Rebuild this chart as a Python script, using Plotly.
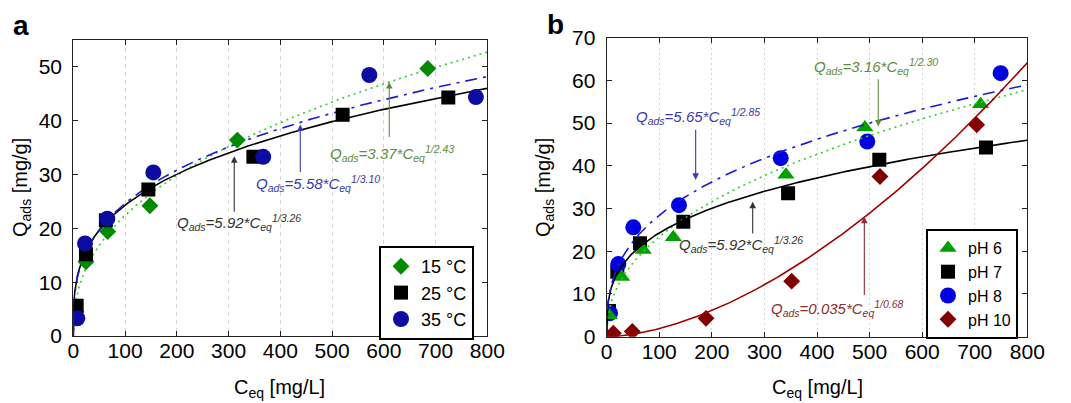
import numpy as np
import plotly.graph_objects as go

# ---------------- data ----------------
# panel a (temperature)
a_names = ["15 °C", "25 °C", "35 °C"]
a15_x = [5, 24.5, 66.5, 148, 317, 685]
a15_y = [4.5, 13.8, 19.4, 24.2, 36.4, 49.7]
a25_x = [6.5, 24.5, 63, 145, 348, 520.5, 724.6]
a25_y = [5.6, 15.2, 21.5, 27.2, 33.3, 41.1, 44.3]
a35_x = [7.7, 22.6, 65.7, 154.6, 367, 572, 778]
a35_y = [3.3, 17.2, 21.8, 30.4, 33.3, 48.5, 44.4]
a_fit_k = [3.37, 5.92, 5.58]
a_fit_n = [2.43, 3.26, 3.10]
a_eq_text = ["3.37", "5.92", "5.58"]
a_eq_exp = ["1/2.43", "1/3.26", "1/3.10"]

# panel b (pH)
b_names = ["pH 6", "pH 7", "pH 8", "pH 10"]
b6_x = [5, 28.5, 69.6, 126.7, 341, 491, 711]
b6_y = [5.0, 14.0, 20.3, 23.3, 37.9, 49.0, 54.4]
b7_x = [4.4, 20.2, 63.3, 145.7, 345, 518.5, 721.4]
b7_y = [6.0, 15.2, 21.9, 26.9, 33.6, 41.4, 44.3]
b8_x = [6.3, 22.1, 50.6, 137.5, 331, 495.6, 749.3]
b8_y = [5.5, 17.0, 25.6, 30.8, 41.8, 45.7, 61.7]
b10_x = [12.6, 48.7, 188.9, 351.8, 519.8, 703.7]
b10_y = [0.8, 1.2, 4.3, 13.0, 37.5, 49.6]
b_fit_k = [3.16, 5.92, 5.65, 0.00077]
b_fit_n = [2.30, 3.26, 2.85, 0.59]
b_eq_text = ["3.16", "5.92", "5.65", "0.035"]
b_eq_exp = ["1/2.30", "1/3.26", "1/2.85", "1/0.68"]

x_ticks = [0, 100, 200, 300, 400, 500, 600, 700, 800]

# ---------------- styles ----------------
FONT = "Liberation Sans, Arial, sans-serif"
a_mcol = ["#008a00", "#000000", "#0c0ca0"]
a_msym = ["diamond", "square", "circle"]
a_msize = [13, 14, 16]
a_lcol = ["#33cc33", "#000000", "#1a1ad0"]
a_ldash = ["2px,4px", "solid", "12px,6px,3px,6px"]
a_tcol = ["#5e8c3e", "#333333", "#3a3ab0"]

b_mcol = ["#00a000", "#000000", "#0000e0", "#800000"]
b_msym = ["triangle-up", "square", "circle", "diamond"]
b_msize = [15, 14, 16, 13]
b_lcol = ["#33cc33", "#000000", "#1a1ad0", "#a00000"]
b_ldash = ["2px,4px", "solid", "12px,6px,3px,6px", "solid"]
b_tcol = ["#5e8c3e", "#333333", "#3a3ab0", "#8b2e2e"]

fig = go.Figure()
xx = np.linspace(0, 800, 801)

# panel a: fits then markers
for k, n, c, d in zip(a_fit_k, a_fit_n, a_lcol, a_ldash):
    fig.add_trace(go.Scatter(x=xx, y=k * xx ** (1.0 / n), mode="lines",
                             line=dict(color=c, width=1.6, dash=d),
                             showlegend=False, hoverinfo="skip",
                             xaxis="x", yaxis="y"))
for name, xs, ys, c, s, sz in zip(a_names, [a15_x, a25_x, a35_x], [a15_y, a25_y, a35_y],
                                  a_mcol, a_msym, a_msize):
    fig.add_trace(go.Scatter(x=xs, y=ys, mode="markers", name=name,
                             marker=dict(color=c, symbol=s, size=sz, line=dict(width=0)),
                             legend="legend", xaxis="x", yaxis="y"))

# panel b: markers then fits
b_order = [1, 2, 0, 3]
b_xs = [b6_x, b7_x, b8_x, b10_x]
b_ys = [b6_y, b7_y, b8_y, b10_y]
for i in b_order:
    fig.add_trace(go.Scatter(x=b_xs[i], y=b_ys[i], mode="markers", name=b_names[i],
                             marker=dict(color=b_mcol[i], symbol=b_msym[i], size=b_msize[i],
                                         line=dict(width=0)),
                             legend="legend2", xaxis="x2", yaxis="y2",
                             legendrank=i + 1))
for k, n, c, d in zip(b_fit_k, b_fit_n, b_lcol, b_ldash):
    yy = k * xx ** (1.0 / n)
    fig.add_trace(go.Scatter(x=xx, y=yy, mode="lines",
                             line=dict(color=c, width=1.6, dash=d),
                             showlegend=False, hoverinfo="skip",
                             xaxis="x2", yaxis="y2"))

# ---------------- annotations ----------------
def eq(k, e):
    return ("<i>Q<sub>ads</sub>=" + k + "*C<sub>eq</sub><sup>" + e + "</sup></i>")

ann = []
# panel a equations: (text x, text y, tail x, tail y, head y)
a_pos = [(615, 34.0, 610.6, 36.7, 47.2),
         (320, 21.0, 311, 22.8, 33.4),
         (472, 28.4, 438.6, 30.2, 39.3)]
for i, (tx, ty, ax_, ay_, hy) in enumerate(a_pos):
    ann.append(dict(x=tx, y=ty, xref="x", yref="y", text=eq(a_eq_text[i], a_eq_exp[i]),
                    showarrow=False, xanchor="center", yanchor="middle",
                    font=dict(size=15, color=a_tcol[i], family=FONT)))
    ann.append(dict(x=ax_, y=hy, ax=ax_, ay=ay_, xref="x", yref="y", axref="x", ayref="y",
                    text="", showarrow=True, arrowhead=2, arrowsize=1.2, arrowwidth=1.1,
                    arrowcolor=a_tcol[i]))

b_pos = [(511.8, 63.2, 516.5, 60.6, 49.2),
         (255, 21.5, 277.7, 23.8, 31.6),
         (173.6, 51.5, 169.2, 48.8, 36.7),
         (438.7, 6.6, 490, 9.4, 28.1)]
for i, (tx, ty, ax_, ay_, hy) in enumerate(b_pos):
    ann.append(dict(x=tx, y=ty, xref="x2", yref="y2", text=eq(b_eq_text[i], b_eq_exp[i]),
                    showarrow=False, xanchor="center", yanchor="middle",
                    font=dict(size=15, color=b_tcol[i], family=FONT)))
    ann.append(dict(x=ax_, y=hy, ax=ax_, ay=ay_, xref="x2", yref="y2", axref="x2", ayref="y2",
                    text="", showarrow=True, arrowhead=2, arrowsize=1.2, arrowwidth=1.1,
                    arrowcolor=b_tcol[i]))

W, H = 1071, 403
def px(xp, yp):
    return xp / W, 1 - yp / H

# panel letters
for lab, (xp, yp) in [("a", (21, 25)), ("b", (555, 24))]:
    x0, y0 = px(xp, yp)
    ann.append(dict(x=x0, y=y0, xref="paper", yref="paper", text="<b>" + lab + "</b>",
                    xanchor="center", yanchor="middle", showarrow=False,
                    font=dict(size=28, color="black", family=FONT)))

# axis titles
for (xp, yp) in [(279, 388), (817, 388)]:
    x0, y0 = px(xp, yp)
    ann.append(dict(x=x0, y=y0, xref="paper", yref="paper",
                    text="C<sub>eq</sub> [mg/L]", showarrow=False,
                    xanchor="center", yanchor="middle",
                    font=dict(size=20, color="black", family=FONT)))
for (xp, yp) in [(22, 188), (545, 188)]:
    x0, y0 = px(xp, yp)
    ann.append(dict(x=x0, y=y0, xref="paper", yref="paper",
                    text="Q<sub>ads</sub> [mg/g]", showarrow=False, textangle=-90,
                    xanchor="center", yanchor="middle",
                    font=dict(size=20, color="black", family=FONT)))

axis_common = dict(showline=True, linecolor="#222222", linewidth=1.2, mirror="ticks",
                   ticks="inside", ticklen=5, tickcolor="#222222",
                   tickfont=dict(size=21, color="black", family=FONT),
                   zeroline=False, automargin=False)

fig.update_layout(
    width=W, height=H,
    margin=dict(l=0, r=0, t=0, b=0, autoexpand=False),
    paper_bgcolor="white", plot_bgcolor="white",
    font=dict(family=FONT, color="black"),
    xaxis=dict(domain=[73.3 / W, 487.3 / W], range=[0, 800], tickvals=x_ticks,
               showgrid=True, gridcolor="#d6d6d6", griddash="4px,4px", gridwidth=1,
               anchor="y", ticklabelstandoff=-4, **axis_common),
    yaxis=dict(domain=[1 - 336 / H, 1 - 40 / H], range=[0, 55], tickvals=[0, 10, 20, 30, 40, 50],
               showgrid=False, anchor="x", ticklabelstandoff=6, **axis_common),
    xaxis2=dict(domain=[606.7 / W, 1027.3 / W], range=[0, 800], tickvals=x_ticks,
                showgrid=True, gridcolor="#d6d6d6", griddash="2px,3px", gridwidth=1,
                anchor="y2", ticklabelstandoff=-4, **axis_common),
    yaxis2=dict(domain=[1 - 336.7 / H, 1 - 37.7 / H], range=[0, 70],
                tickvals=[0, 10, 20, 30, 40, 50, 60, 70],
                showgrid=False, anchor="x2", ticklabelstandoff=6, **axis_common),
    legend=dict(x=379 / W, y=1 - 246 / H, xanchor="left", yanchor="top",
                bgcolor="white", bordercolor="black", borderwidth=2,
                font=dict(size=18, color="black", family=FONT),
                tracegroupgap=0, itemsizing="trace"),
    legend2=dict(x=926 / W, y=1 - 229 / H, xanchor="left", yanchor="top",
                 bgcolor="white", bordercolor="black", borderwidth=2,
                 font=dict(size=16, color="black", family=FONT),
                 tracegroupgap=0, itemsizing="trace"),
    annotations=ann,
    showlegend=True,
)

fig.write_html("out.html")
